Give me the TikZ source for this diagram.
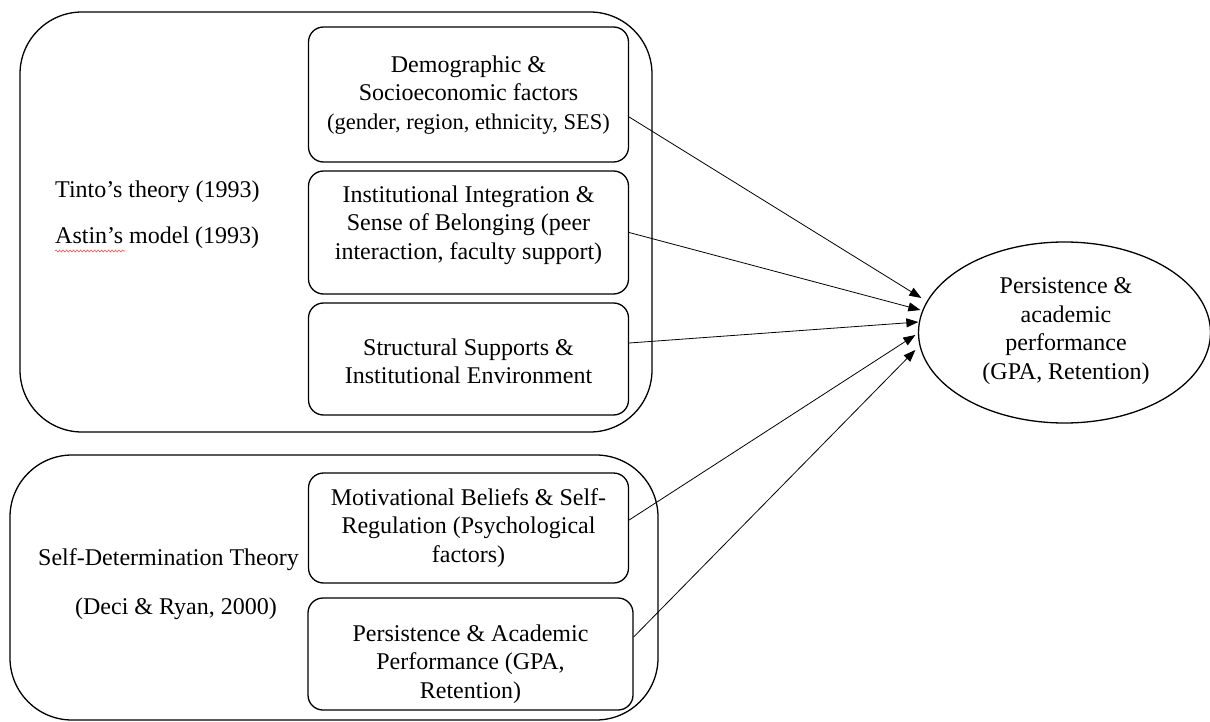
\documentclass[tikz,border=0pt]{standalone}
\usepackage{fontspec}
\setmainfont{Liberation Serif}
\usetikzlibrary{arrows.meta,shapes.geometric,decorations.pathmorphing}
\begin{document}
\begin{tikzpicture}[x=1pt,y=-1pt,
 outerbox/.style={draw,line width=1.3pt,rounded corners=62pt,inner sep=0pt},
 inbox/.style={draw,line width=1.3pt,rounded corners=15pt,minimum width=320pt,inner sep=0pt},
 txt/.style={align=center,font=\fontsize{24}{28.5}\selectfont,inner sep=0pt},
 conn/.style={line width=0.8pt,-{Triangle[length=12pt,width=9pt]}}]
\useasboundingbox (0,0) rectangle (1210,722);
\fill[white] (0,0) rectangle (1210,722);

% group frames
\node[outerbox,minimum width=632pt,minimum height=420pt] (G1) at (336,222) {};
\node[outerbox,minimum width=648pt,minimum height=265pt] (G2) at (334,587.5) {};

% inner boxes
\node[inbox,minimum height=135pt] (A) at (468.5,94.5) {};
\node[inbox,minimum height=123pt] (B) at (468.5,232.5) {};
\node[inbox,minimum height=112pt] (C) at (468.5,359) {};
\node[inbox,minimum height=110pt] (D) at (468.5,528) {};
\node[inbox,minimum width=325pt,minimum height=112pt] (E) at (470.5,654) {};

\node[txt] (At) at (468.5,95) {Demographic \&\\Socioeconomic factors\\{\fontsize{22.5}{27}\selectfont (gender, region, ethnicity, SES)}};
\node[txt] (Bt) at (468.5,225) {Institutional Integration \&\\Sense of Belonging (peer\\interaction, faculty support)};
\node[txt] (Ct) at (468.5,361.5) {Structural Supports \&\\Institutional Environment};
\node[txt] (Dt) at (468.5,528) {Motivational Beliefs \& Self-\\Regulation (Psychological\\factors)};
\node[txt] (Et) at (470.5,664) {Persistence \& Academic\\Performance (GPA,\\Retention)};

% outcome
\node[draw,ellipse,line width=1.3pt,minimum width=292pt,minimum height=181pt,inner sep=0pt] (P) at (1064.5,332.5) {};
\node[txt] (Pt) at (1066,331) {Persistence \&\\academic\\performance\\(GPA, Retention)};

% theory labels
\node[txt,anchor=west] (T1) at (55,192) {Tinto’s theory (1993)};
\node[txt,anchor=west] (T2) at (55,238) {Astin’s model (1993)};
\draw[red!70,line width=0.6pt,decorate,decoration={snake,amplitude=1pt,segment length=3.5pt}] ([yshift=-13pt]T2.west) -- ++(70,0);
\node[txt,anchor=west] (S1) at (38,560) {Self-Determination Theory};
\node[txt] (S2) at (176,609) {(Deci \& Ryan, 2000)};

% connectors
\draw[conn] ([yshift=-22.5pt]A.east) -- ([shift={(3.5,-34.5)}]P.west);
\draw[conn] (B.east) -- ([shift={(2.5,-22.5)}]P.west);
\draw[conn] ([yshift=16pt]C.east) -- ([shift={(0.5,-10.5)}]P.west);
\draw[conn] ([yshift=8pt]D.east) -- ([shift={(-2.5,2.5)}]P.west);
\draw[conn] ([yshift=17pt]E.east) -- ([shift={(-2.5,17.5)}]P.west);
\end{tikzpicture}
\end{document}
